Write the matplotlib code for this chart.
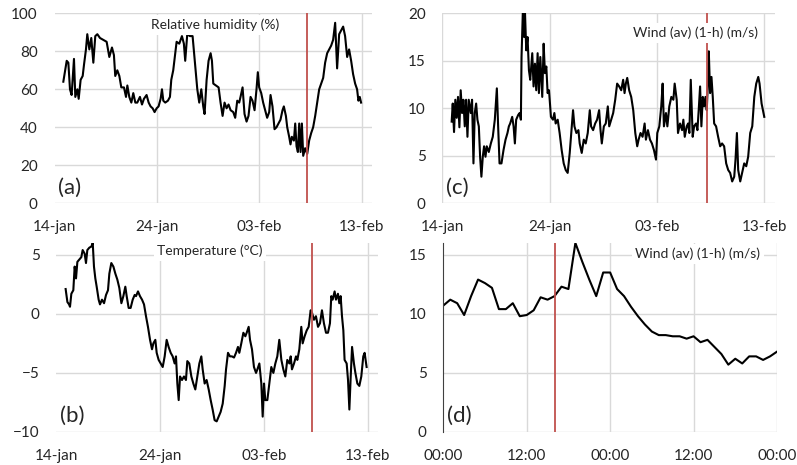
import matplotlib.pyplot as plt

plt.rcParams['font.family'] = ['Lato', 'DejaVu Sans']

# days since 14-jan 00:00
rh_day = [0.86, 1.19, 1.35, 1.51, 1.67, 1.90, 2.03, 2.23, 2.36, 2.55, 2.75, 2.88, 3.07, 3.20, 3.40,
          3.59, 3.79, 3.98, 4.18, 4.44, 4.76, 5.09, 5.35, 5.61, 5.80, 5.93, 6.13, 6.33, 6.52, 6.78,
          6.98, 7.11, 7.30, 7.50, 7.69, 7.89, 8.08, 8.34, 8.54, 8.73, 8.99, 9.19, 9.38, 9.58, 9.77,
          9.97, 10.16, 10.36, 10.49, 10.62, 10.81, 11.07, 11.27, 11.40, 11.59, 11.79, 11.92, 12.18,
          12.44, 12.63, 12.76, 12.96, 13.22, 13.48, 13.74, 13.94, 14.13, 14.33, 14.52, 14.65, 14.85,
          15.04, 15.24, 15.37, 15.50, 15.76, 16.02, 16.21, 16.41, 16.60, 16.80, 16.99, 17.19, 17.45,
          17.64, 17.84, 18.03, 18.16, 18.36, 18.55, 18.75, 18.94, 19.14, 19.33, 19.53, 19.72, 19.85,
          19.98, 20.18, 20.37, 20.57, 20.76, 20.96, 21.09, 21.28, 21.48, 21.67, 21.87, 22.06, 22.26,
          22.39, 22.59, 22.72, 22.91, 23.04, 23.17, 23.37, 23.50, 23.63, 23.76, 23.89, 24.02, 24.15,
          24.28, 24.47, 24.67, 24.86, 25.06, 25.25, 25.45, 25.64, 25.84, 26.03, 26.23, 26.42, 26.62,
          26.81, 27.01, 27.20, 27.40, 27.59, 27.79, 27.98, 28.18, 28.37, 28.57, 28.76, 28.96, 29.15,
          29.35, 29.54, 29.67, 29.80, 29.93]
rh_val = [64, 75, 74, 60, 57, 76, 56, 60, 55, 65, 67, 73, 81, 89, 81,
          87, 74, 88, 89, 87, 86, 85, 77, 82, 78, 67, 70, 67, 61, 61,
          56, 62, 56, 53, 58, 53, 53, 56, 52, 55, 57, 53, 51, 50, 48,
          50, 51, 55, 60, 54, 53, 54, 56, 65, 70, 79, 85, 84,
          88, 84, 75, 89, 88, 88, 72, 60, 53, 60, 51, 47, 65,
          75, 79, 75, 63, 62, 61, 53, 46, 53, 50, 52, 49, 48,
          45, 54, 53, 56, 61, 47, 43, 46, 56, 54, 49, 60, 69,
          61, 58, 53, 49, 45, 48, 57, 51, 39, 40, 42, 44, 49,
          51, 46, 40, 35, 31, 35, 33, 42, 30, 27, 42, 27, 42,
          25, 29, 26, 33, 37, 40, 46, 53, 60, 63, 66, 74, 79,
          81, 83, 86, 95, 71, 89, 91, 93, 88, 77, 81, 75, 68,
          63, 60, 54, 56, 53]

temp_day = [0.91, 1.08, 1.24, 1.33, 1.46, 1.65, 1.78, 1.91, 2.04, 2.23, 2.42, 2.55, 2.74, 2.87, 3.00,
            3.19, 3.39, 3.52, 3.64, 3.77, 3.90, 4.09, 4.22, 4.41, 4.61, 4.80, 4.99, 5.12, 5.31, 5.51,
            5.70, 5.89, 6.08, 6.28, 6.47, 6.66, 6.79, 6.98, 7.17, 7.37, 7.56, 7.69, 7.88, 8.07, 8.27,
            8.46, 8.65, 8.84, 9.04, 9.23, 9.36, 9.55, 9.68, 9.87, 10.06, 10.26, 10.45, 10.64, 10.83,
            11.03, 11.22, 11.41, 11.54, 11.67, 11.80, 11.93, 12.12, 12.31, 12.50, 12.63, 12.82, 13.02,
            13.21, 13.40, 13.60, 13.79, 13.98, 14.11, 14.30, 14.49, 14.69, 14.88, 15.07, 15.26, 15.46,
            15.65, 15.84, 16.04, 16.23, 16.36, 16.55, 16.74, 16.93, 17.13, 17.32, 17.51, 17.64, 17.83,
            18.03, 18.22, 18.35, 18.54, 18.67, 18.86, 19.05, 19.25, 19.38, 19.57, 19.76, 19.89, 20.02,
            20.14, 20.34, 20.53, 20.72, 20.92, 21.11, 21.30, 21.49, 21.69, 21.88, 22.07, 22.26, 22.46,
            22.59, 22.71, 22.91, 23.10, 23.23, 23.42, 23.61, 23.74, 23.93, 24.13, 24.32, 24.51, 24.64,
            24.83, 25.02, 25.22, 25.41, 25.60, 25.79, 25.99, 26.18, 26.37, 26.50, 26.63, 26.82, 26.95,
            27.14, 27.27, 27.40, 27.53, 27.66, 27.78, 27.98, 28.11, 28.24, 28.37, 28.50, 28.68, 28.82,
            29.01, 29.20, 29.39, 29.58, 29.71, 29.90]
temp_val = [2.1, 1.0, 0.8, 0.6, 1.7, 2.0, 4.0, 3.0, 4.4, 4.6, 4.8, 5.4, 5.1, 4.3, 5.4,
            5.6, 5.7, 6.0, 4.0, 3.0, 2.3, 1.2, 0.8, 1.2, 0.9, 1.6, 2.0, 3.4, 4.3, 4.0,
            3.4, 2.9, 2.2, 0.9, 1.5, 2.3, 1.5, 0.5, 0.5, 1.2, 1.6, 1.5, 1.9, 1.5, 1.2,
            0.8, -0.2, -1.1, -2.2, -3.0, -2.5, -2.2, -3.3, -3.9, -4.2, -4.5, -3.6, -2.2, -2.8,
            -3.3, -3.6, -4.2, -3.6, -5.9, -7.3, -5.3, -5.6, -5.3, -5.6, -4.0, -4.2, -5.3,
            -5.9, -6.4, -5.3, -4.2, -3.6, -4.7, -5.9, -5.6, -6.4, -7.3, -8.1, -9.0, -9.1,
            -8.7, -8.3, -7.6, -6.1, -4.7, -3.3, -3.6, -3.6, -3.7, -3.3, -2.8, -3.3, -2.5,
            -1.6, -1.9, -1.6, -1.1, -2.2, -3.0, -4.5, -5.0, -4.7, -4.2, -5.9, -8.7, -5.9,
            -7.3, -7.3, -5.9, -4.5, -5.0, -4.2, -3.6, -2.2, -3.9, -4.7, -5.3, -3.9, -4.2,
            -3.6, -4.7, -4.2, -3.6, -3.9, -3.0, -1.1, -2.5, -1.9, -1.4, -1.1, 0.3, 0.1,
            -0.5, -0.2, -1.1, -0.8, 0.3, -0.8, -1.6, -1.6, -0.8, 1.5, 1.2, 1.9, 1.2,
            1.7, 0.9, 1.5, -0.2, -1.4, -3.9, -4.2, -5.6, -8.1, -5.3, -2.8, -4.2, -5.0,
            -5.9, -6.1, -5.3, -3.6, -3.3, -4.5]

wind_day = [0.87, 0.97, 1.09, 1.21, 1.34, 1.46, 1.59, 1.71, 1.84, 1.96, 2.09, 2.21, 2.34, 2.46, 2.65,
            2.77, 2.90, 3.02, 3.15, 3.27, 3.40, 3.52, 3.64, 3.77, 3.89, 4.02, 4.14, 4.33, 4.52, 4.70,
            4.89, 5.08, 5.20, 5.33, 5.51, 5.70, 5.89, 6.07, 6.20, 6.32, 6.51, 6.64, 6.76, 6.88, 7.07,
            7.20, 7.32, 7.38, 7.51, 7.63, 7.69, 7.82, 7.94, 8.07, 8.19, 8.38, 8.50, 8.63, 8.75, 8.88,
            9.00, 9.13, 9.31, 9.44, 9.56, 9.69, 9.81, 9.94, 10.12, 10.31, 10.44, 10.56, 10.75, 10.93,
            11.12, 11.31, 11.50, 11.68, 11.87, 12.06, 12.18, 12.31, 12.49, 12.68, 12.80, 12.99, 13.18,
            13.36, 13.55, 13.74, 13.86, 14.05, 14.24, 14.42, 14.61, 14.74, 14.86, 15.05, 15.23, 15.42,
            15.55, 15.73, 15.92, 16.11, 16.29, 16.48, 16.67, 16.85, 16.98, 17.10, 17.23, 17.41, 17.60,
            17.79, 17.98, 18.16, 18.29, 18.47, 18.66, 18.85, 18.97, 19.16, 19.35, 19.53, 19.72, 19.91,
            20.03, 20.22, 20.40, 20.53, 20.65, 20.84, 20.97, 21.15, 21.34, 21.53, 21.65, 21.84, 21.96,
            22.15, 22.34, 22.46, 22.59, 22.77, 22.90, 23.02, 23.15, 23.33, 23.46, 23.64, 23.77, 23.89,
            24.02, 24.14, 24.27, 24.39, 24.52, 24.64, 24.77, 24.83, 24.95, 25.08, 25.20, 25.33, 25.51,
            25.70, 25.89, 26.07, 26.26, 26.45, 26.64, 26.82, 27.01, 27.20, 27.32, 27.45, 27.57, 27.76,
            27.94, 28.13, 28.32, 28.50, 28.69, 28.88, 29.07, 29.25, 29.44, 29.56, 29.75, 29.88, 30.00]
wind_val = [8.6, 10.5, 7.5, 10.9, 9.0, 11.2, 8.0, 11.9, 9.5, 10.9, 8.1, 10.9, 7.0, 10.9, 9.5,
            10.9, 4.2, 9.5, 10.5, 8.8, 8.1, 4.9, 2.8, 4.9, 6.0, 4.9, 6.0, 5.4, 6.3, 7.0,
            8.8, 12.1, 8.1, 4.2, 4.2, 5.6, 6.7, 7.4, 8.1, 8.4, 9.1, 8.1, 6.3, 8.8, 9.3,
            9.5, 8.8, 15.4, 20.5, 17.5, 20.5, 16.1, 17.5, 14.0, 13.0, 15.8, 12.3, 14.7, 11.9, 15.8,
            11.6, 15.4, 11.2, 16.8, 13.7, 14.4, 11.6, 11.9, 9.1, 8.8, 9.5, 8.4, 8.8, 7.4,
            5.6, 4.2, 3.5, 3.2, 5.3, 8.1, 9.8, 8.1, 7.4, 7.7, 6.3, 5.3, 6.7,
            6.3, 7.4, 9.8, 8.1, 7.7, 8.4, 8.8, 9.8, 7.7, 6.3, 8.1, 8.4, 10.2,
            8.1, 8.8, 9.5, 10.9, 12.6, 12.3, 11.9, 13.0, 11.6, 12.6, 13.2, 11.9, 11.2,
            9.8, 7.4, 6.0, 6.7, 7.4, 7.0, 8.4, 6.7, 7.7, 6.7, 6.3, 5.6, 4.6,
            7.4, 8.1, 10.2, 12.6, 8.1, 9.5, 8.1, 10.2, 11.2, 10.9, 12.6, 10.9, 7.4,
            8.4, 7.7, 8.8, 7.0, 8.1, 8.4, 7.4, 13.0, 7.0, 8.1, 8.4, 7.7, 9.8,
            12.3, 8.1, 11.2, 10.2, 11.2, 9.8, 13.3, 16.0, 11.6, 13.3, 11.2, 8.4, 8.1,
            7.0, 6.0, 6.3, 6.0, 4.2, 3.5, 3.2, 2.3, 2.8, 4.6, 7.4, 3.5, 2.3,
            3.2, 4.2, 3.9, 4.9, 7.4, 8.1, 11.2, 12.6, 13.3, 12.6, 10.5, 9.8, 9.1]

# hours since 00:00 on 7-feb (2-day zoom)
zoom_hour = list(range(49))
zoom_wind = [10.7, 11.2, 10.9, 9.9, 11.5, 12.9, 12.6, 12.2, 10.4, 10.4, 10.9, 9.8, 9.9, 10.3, 11.4,
             11.2, 11.5, 12.3, 12.1, 16.0, 14.4, 12.9, 11.5, 13.5, 13.5, 12.1, 11.5, 10.6, 9.8, 9.1,
             8.5, 8.2, 8.2, 8.1, 8.1, 7.9, 8.1, 7.6, 7.8, 7.2, 6.6, 5.7, 6.2, 5.8, 6.4,
             6.4, 6.1, 6.4, 6.8]

event_day = 24.667   # 07-feb 16:00
event_hour = 16

date_ticks = [0, 10, 20, 30]
date_labels = ["14-jan", "24-jan", "03-feb", "13-feb"]
hour_ticks = [0, 12, 24, 36, 48]
hour_labels = ["00:00", "12:00", "00:00", "12:00", "00:00"]

red = "#c0504d"
grid_c = "#d9d9d9"
txt_c = "#262626"

fig = plt.figure(figsize=(7.97, 4.65), dpi=100)
ax_a = fig.add_axes([0.0684, 0.5628, 0.3984, 0.4086])
ax_c = fig.add_axes([0.5550, 0.5628, 0.4174, 0.4086])
ax_b = fig.add_axes([0.0705, 0.0710, 0.4038, 0.4065])
ax_d = fig.add_axes([0.5562, 0.0710, 0.4187, 0.4065])


def style(ax, xticks, xlabels, yticks, xlim, ylim):
    ax.set_xlim(*xlim)
    ax.set_ylim(*ylim)
    ax.set_xticks(xticks)
    ax.set_xticklabels(xlabels)
    ax.set_yticks(yticks)
    ax.grid(True, color=grid_c, lw=1)
    ax.set_axisbelow(True)
    for s in ax.spines.values():
        s.set_visible(False)
    ax.tick_params(length=0, pad=12, labelsize=11, colors=txt_c)


style(ax_a, date_ticks, date_labels, [0, 20, 40, 60, 80, 100], (0, 31), (0, 100))
style(ax_c, date_ticks, date_labels, [0, 5, 10, 15, 20], (0, 31), (0, 20))
style(ax_b, date_ticks, date_labels, [-10, -5, 0, 5], (0, 31), (-10, 6))
style(ax_d, hour_ticks, hour_labels, [0, 5, 10, 15], (0, 48), (0, 16))

ax_a.get_xgridlines()[0].set_visible(False)
ax_b.get_xgridlines()[0].set_visible(False)
ax_d.spines['left'].set_visible(True)
ax_d.spines['left'].set_color('#404040')
ax_d.get_xgridlines()[0].set_visible(False)

ax_a.plot(rh_day, rh_val, color='black', lw=1.5)
ax_b.plot(temp_day, temp_val, color='black', lw=1.5)
ax_c.plot(wind_day, wind_val, color='black', lw=1.5)
ax_d.plot(zoom_hour, zoom_wind, color='black', lw=1.5)

for ax in (ax_a, ax_b, ax_c):
    ax.axvline(event_day, color=red, lw=1.3)
ax_d.axvline(event_hour, color=red, lw=1.3)

box = dict(facecolor='white', edgecolor='none', pad=2.5)
ax_a.text(0.505, 0.938, "Relative humidity (%)", transform=ax_a.transAxes, ha='center', va='center',
          fontsize=10, color=txt_c, bbox=box)
ax_c.text(0.76, 0.896, "Wind (av) (1-h) (m/s)", transform=ax_c.transAxes, ha='center', va='center',
          fontsize=10, color=txt_c, bbox=box)
ax_b.text(0.478, 0.958, "Temperature (°C)", transform=ax_b.transAxes, ha='center', va='center',
          fontsize=10, color=txt_c, bbox=box)
ax_d.text(0.763, 0.942, "Wind (av) (1-h) (m/s)", transform=ax_d.transAxes, ha='center', va='center',
          fontsize=10, color=txt_c, bbox=box)

for ax, lab in ((ax_a, "(a)"), (ax_b, "(b)"), (ax_c, "(c)"), (ax_d, "(d)")):
    ax.text(0.012, 0.03, lab, transform=ax.transAxes, fontsize=16, color=txt_c, va='bottom')

fig.savefig("out.png", dpi=100)
